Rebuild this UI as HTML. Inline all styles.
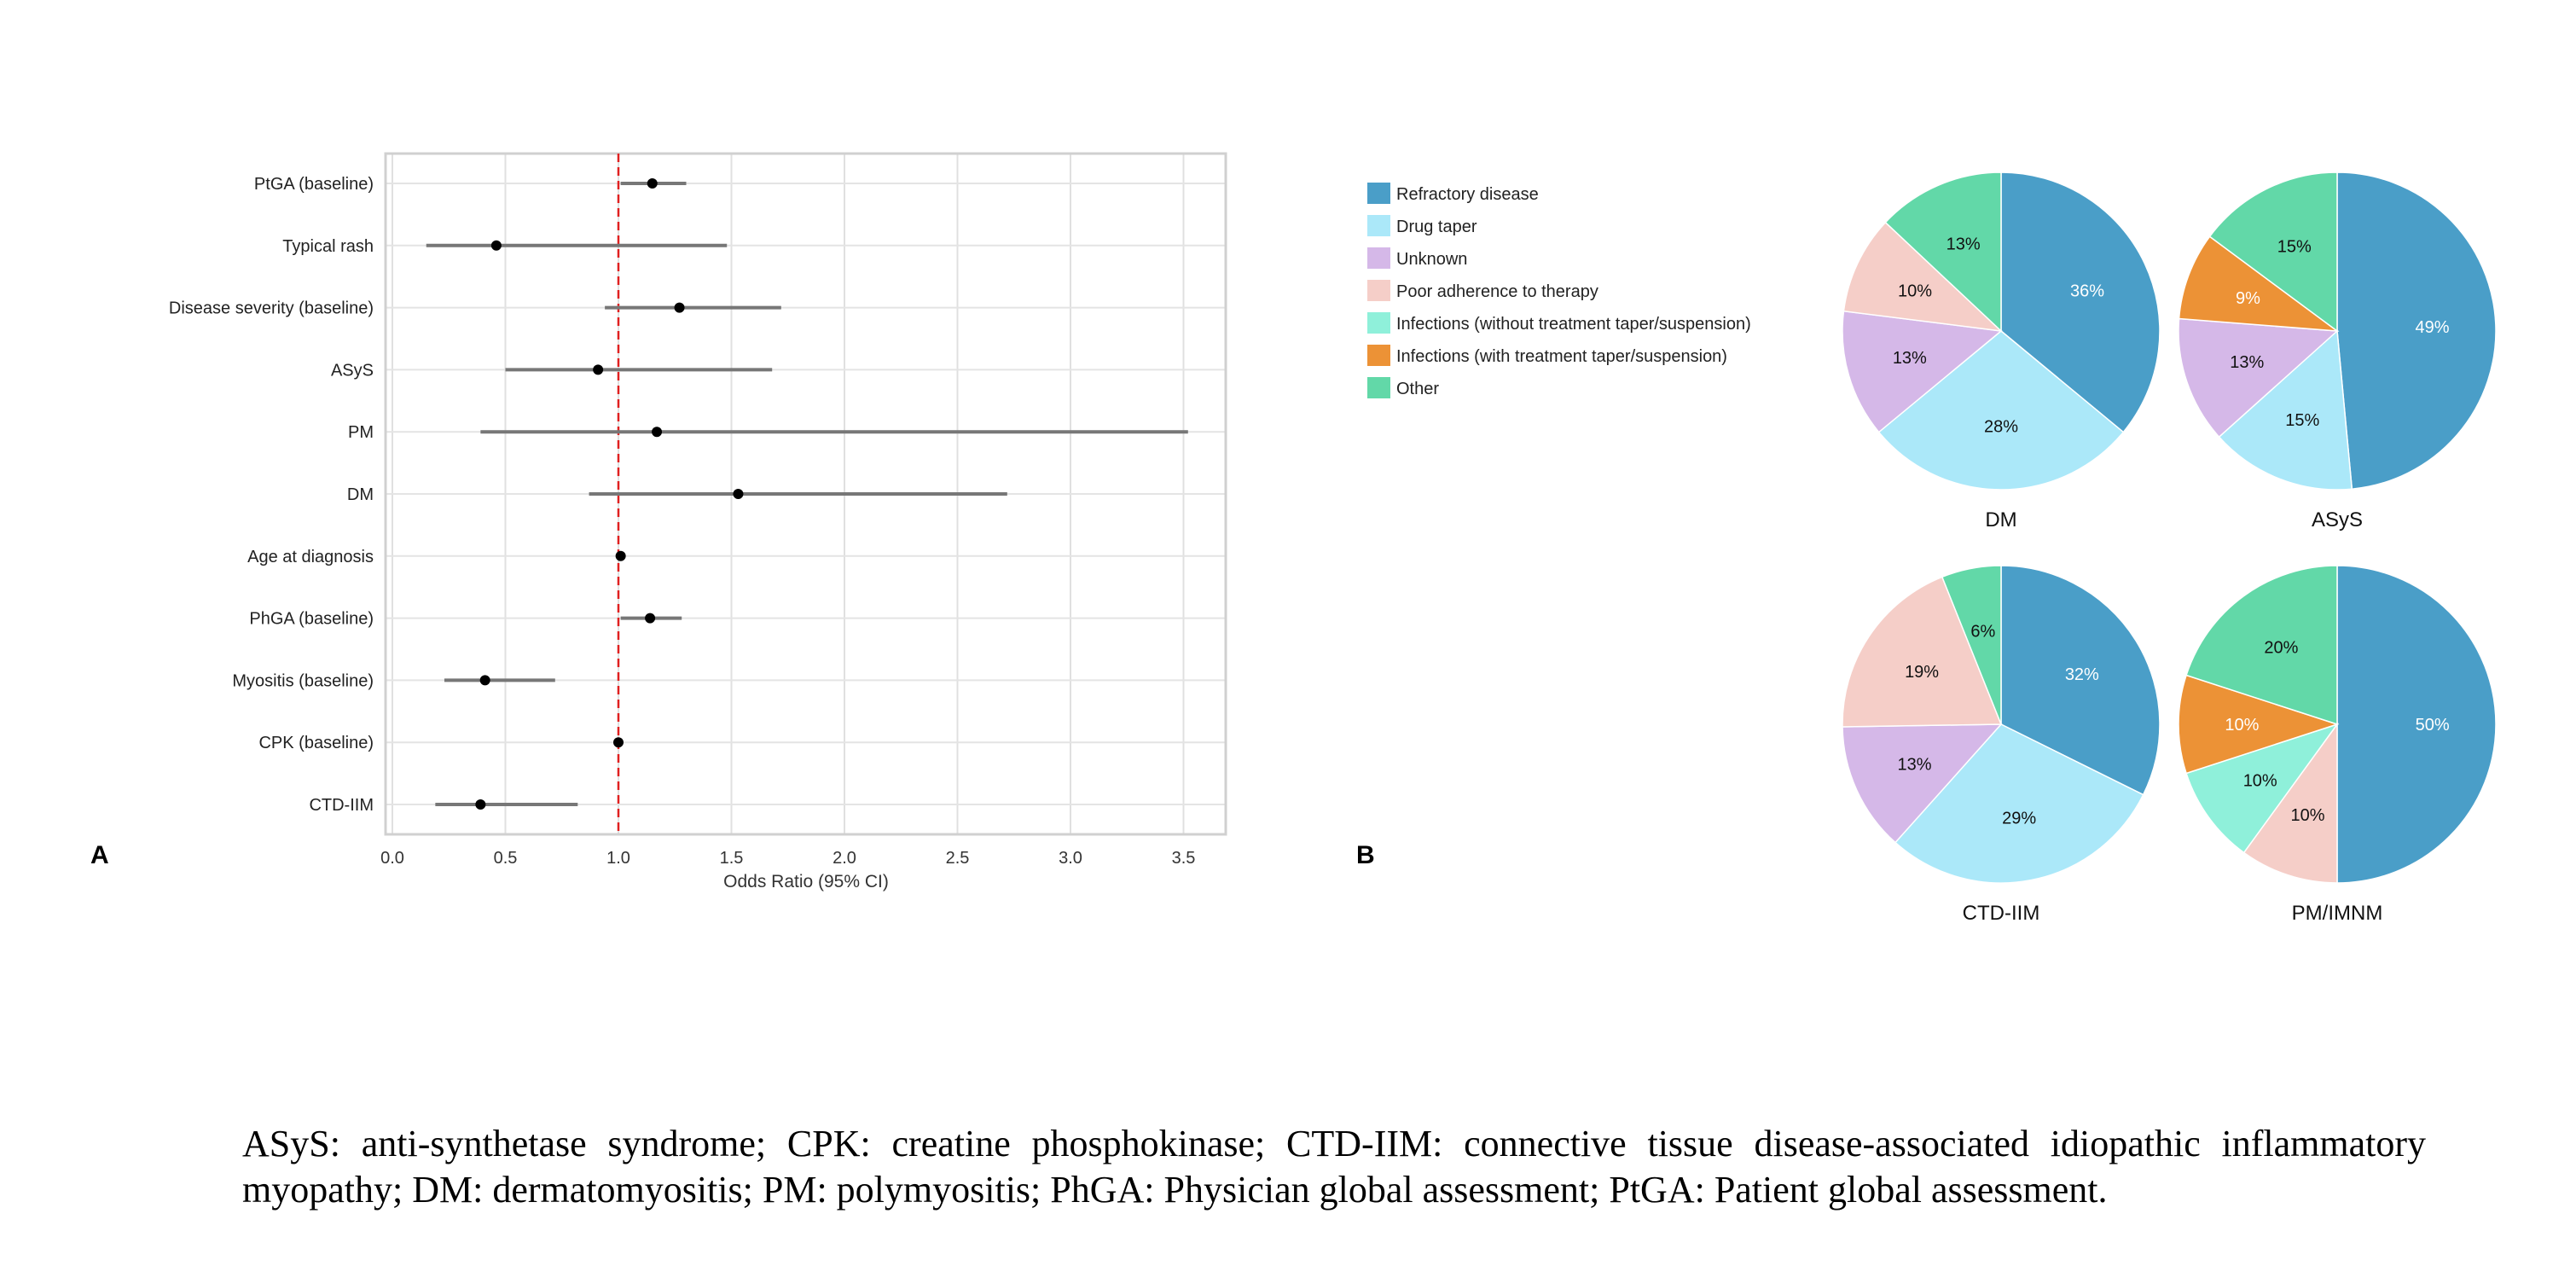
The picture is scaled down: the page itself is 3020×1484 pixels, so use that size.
<!DOCTYPE html>
<html><head><meta charset="utf-8"><style>
body{margin:0;background:#fff;width:3020px;height:1484px;overflow:hidden;position:relative;font-family:"Liberation Sans",sans-serif}
#caption{position:absolute;left:284px;top:1314px;width:2560px;font-family:"Liberation Serif",serif;font-size:44px;line-height:54px;color:#000}
#caption .l1{text-align:justify;text-align-last:justify;display:block}
#caption .l2{display:block;white-space:nowrap}
</style></head><body>
<svg id="svg" width="3020" height="1484" style="position:absolute;left:0;top:0"></svg>
<div id="caption"><div class="l1">ASyS: anti-synthetase syndrome; CPK: creatine phosphokinase; CTD-IIM: connective tissue disease-associated idiopathic inflammatory</div><div class="l2">myopathy; DM: dermatomyositis; PM: polymyositis; PhGA: Physician global assessment; PtGA: Patient global assessment.</div></div>
<script>
const vars=["PtGA (baseline)","Typical rash","Disease severity (baseline)","ASyS","PM","DM","Age at diagnosis","PhGA (baseline)","Myositis (baseline)","CPK (baseline)","CTD-IIM"];
const orVals=[1.15,0.46,1.27,0.91,1.17,1.53,1.01,1.14,0.41,1.0,0.39];
const ciLow=[1.01,0.15,0.94,0.50,0.39,0.87,1.00,1.01,0.23,0.99,0.19];
const ciHigh=[1.30,1.48,1.72,1.68,3.52,2.72,1.03,1.28,0.72,1.01,0.82];
const xTicks=[0,0.5,1.0,1.5,2.0,2.5,3.0,3.5];
const xTickLabels=["0.0","0.5","1.0","1.5","2.0","2.5","3.0","3.5"];
const catNames=["Refractory disease","Drug taper","Unknown","Poor adherence to therapy","Infections (without treatment taper/suspension)","Infections (with treatment taper/suspension)","Other"];
const catColors=["#4a9ec8","#abe8f9","#d5b8e8","#f5cec8","#8ff0da","#ec9236","#62d8a8"];
const pieDM=[36,28,13,10,0,0,13];
const pieASyS=[49,15,13,0,0,9,15];
const pieCTD=[32,29,13,19,0,0,6];
const piePM=[50,0,0,10,10,10,20];

const NS="http://www.w3.org/2000/svg";
const svg=document.getElementById('svg');
function mk(tag,at,parent){const e=document.createElementNS(NS,tag);for(const k in at)e.setAttribute(k,at[k]);(parent||svg).appendChild(e);return e;}
function txt(s,at,parent){const e=mk('text',at,parent);e.textContent=s;return e;}

const L=452,R=1437,T=180,B=978;
const xs=v=>460+v*265;
const ys=i=>215+i*72.8;
const fp=mk('g',{});


xTicks.forEach((t,i)=>{
 const g=mk('line',{x1:xs(t),x2:xs(t),y1:T,y2:B,stroke:'#e0e0e0','stroke-width':2},fp);
 
 
 const tl=txt(xTickLabels[i],{x:xs(t),y:1012,'text-anchor':'middle','font-size':20,fill:'#333'},fp);
 
 
});
vars.forEach((v,i)=>{
 const g=mk('line',{x1:L,x2:R,y1:ys(i),y2:ys(i),stroke:'#e4e4e4','stroke-width':2},fp);
 
 
});
const fr=mk('rect',{x:L,y:T,width:R-L,height:B-T,fill:'none',stroke:'#d0d0d0','stroke-width':3},fp);


const ref=mk('line',{x1:xs(1),x2:xs(1),y1:T,y2:B,stroke:'#e02020','stroke-width':2.5,'stroke-dasharray':'10,6'},fp);


vars.forEach((v,i)=>{
 const lb=txt(v,{x:438,y:ys(i)+7,'text-anchor':'end','font-size':20,fill:'#222'},fp);
 
 
 const ci=mk('line',{x1:xs(ciLow[i]),x2:xs(ciHigh[i]),y1:ys(i),y2:ys(i),stroke:'#777','stroke-width':4},fp);
 
 
 const p=mk('circle',{cx:xs(orVals[i]),cy:ys(i),r:6,fill:'#000'},fp);
 
 
});
const xt=txt('Odds Ratio (95% CI)',{x:945,y:1040,'text-anchor':'middle','font-size':21,fill:'#333'},fp);


const la=txt('A',{x:106,y:1012,'font-size':30,'font-weight':'bold'});


const lbB=txt('B',{x:1590,y:1012,'font-size':30,'font-weight':'bold'});



catNames.forEach((n,i)=>{
 const y=214+i*38;
 const r=mk('rect',{x:1603,y:y,width:27,height:25,fill:catColors[i]});
 
 
 const t=txt(n,{x:1637,y:y+20,'font-size':20,fill:'#222'});
 
 
});

const pies=[pieDM,pieASyS,pieCTD,piePM];
const centers=[[2346,388],[2740,388],[2346,849],[2740,849]];
const titles=["DM","ASyS","CTD-IIM","PM/IMNM"];
const rad=186;
pies.forEach((vals,p)=>{
 const [cx,cy]=centers[p];
 const g=mk('g',{});
 
 
 const tot=vals.reduce((a,b)=>a+b,0);
 let a0=0;
 vals.forEach((v,i)=>{
  if(!v)return;
  const a1=a0+v/tot*2*Math.PI;
  const x0=cx+rad*Math.sin(a0),y0=cy-rad*Math.cos(a0),x1=cx+rad*Math.sin(a1),y1=cy-rad*Math.cos(a1);
  const s=mk('path',{d:`M${cx},${cy}L${x0},${y0}A${rad},${rad} 0 ${a1-a0>Math.PI?1:0} 1 ${x1},${y1}Z`,fill:catColors[i],stroke:'#fff','stroke-width':1.5},g);
  
  
  const am=(a0+a1)/2;
  const lt=txt(v+'%',{x:cx+rad*0.6*Math.sin(am),y:cy-rad*0.6*Math.cos(am)+7,'text-anchor':'middle','font-size':20,fill:(i===0||i===5)?'#fff':'#111'},g);
  
  
  a0=a1;
 });
 const tt=txt(titles[p],{x:cx,y:cy+229,'text-anchor':'middle','font-size':24,fill:'#111'},g);
 
 
});
</script>
</body></html>
